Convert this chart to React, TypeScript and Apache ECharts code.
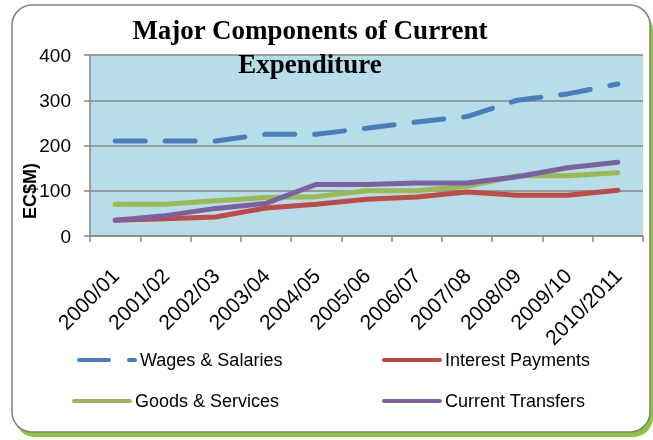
import React, { useEffect, useRef } from "react";
import * as echarts from "echarts";

const categories = ["2000/01", "2001/02", "2002/03", "2003/04", "2004/05", "2005/06", "2006/07", "2007/08", "2008/09", "2009/10", "2010/2011"];
const wages = [210, 210, 210, 225, 225, 238, 252, 264, 300, 314, 336];
const interest = [35, 38, 42, 62, 70, 81, 86, 97, 90, 90, 101];
const goods = [70, 70, 78, 85, 87, 100, 100, 110, 133, 133, 140];
const transfers = [35, 45, 61, 72, 114, 114, 117, 117, 131, 151, 163];
const yTicks = [0, 100, 200, 300, 400];

const titleText = "Major Components of Current\nExpenditure";
const yName = "EC$M)";
const seriesNames = ["Wages & Salaries", "Interest Payments", "Goods & Services", "Current Transfers"];
const colors = ["#4A7EBB", "#BE4B48", "#98B954", "#7D60A0"];

export default function App() {
  const ref = useRef<HTMLDivElement>(null);
  useEffect(() => {
    const chart = echarts.init(ref.current!, null, { renderer: "svg" });
    const font = "'Liberation Sans', Arial, sans-serif";
    const mkLegend = (name: string, left: number, top: number) => ({
      show: true,
      data: [name],
      left,
      top,
      itemWidth: 56,
      itemHeight: 14,
      itemGap: 0,
      padding: 0,
      itemStyle: { opacity: 0, color: "transparent", borderWidth: 0 },
      lineStyle: { width: 4 },
      textStyle: { fontFamily: font, fontSize: 18, color: "#000", padding: [0, 0, 0, 0] },
    });
    chart.setOption({
      animation: false,
      backgroundColor: "transparent",
      graphic: [
        { type: "rect", z: -10, shape: { x: 15, y: 10, width: 638, height: 427, r: 20 }, style: { fill: "#8CC63F" } },
        { type: "rect", z: -9, shape: { x: 12, y: 5, width: 638, height: 427, r: 20 }, style: { fill: "#fff", stroke: "#808080", lineWidth: 1.5 } },
        {
          type: "text", z: 10, x: 30, y: 191, rotation: Math.PI / 2,
          style: { text: yName, fontFamily: font, fontWeight: "bold", fontSize: 18, fill: "#000", align: "center", verticalAlign: "middle" },
        },
      ],
      title: {
        text: titleText,
        left: 305,
        top: 8,
        textAlign: "center",
        textStyle: { fontFamily: "'Liberation Serif', 'Times New Roman', serif", fontWeight: "bold", fontSize: 27, lineHeight: 34, color: "#000" },
        z: 10,
      },
      legend: [
        mkLegend(seriesNames[0], 77, 351),
        mkLegend(seriesNames[1], 382, 351),
        mkLegend(seriesNames[2], 72, 392),
        mkLegend(seriesNames[3], 382, 392),
      ],
      grid: { left: 90, right: 10, top: 55, bottom: 204, show: true, backgroundColor: "#B7DDE8", borderWidth: 0 },
      xAxis: {
        type: "category",
        data: categories,
        boundaryGap: true,
        axisLine: { lineStyle: { color: "#868686", width: 1.5 } },
        axisTick: { show: true, length: 6, lineStyle: { color: "#868686", width: 1.5 } },
        axisLabel: { rotate: 45, interval: 0, margin: 36, fontFamily: font, fontSize: 21, color: "#000" },
      },
      yAxis: {
        type: "value",
        min: yTicks[0],
        max: yTicks[yTicks.length - 1],
        interval: 100,
        axisLine: { show: true, lineStyle: { color: "#868686", width: 1.5 } },
        axisTick: { show: true, length: 6, lineStyle: { color: "#868686", width: 1.5 } },
        splitLine: { lineStyle: { color: "#868686", width: 1.5 } },
        axisLabel: { margin: 19, fontFamily: font, fontSize: 19, color: "#000" },
      },
      series: [
        { name: seriesNames[0], type: "line", data: wages, symbol: "none", color: colors[0], lineStyle: { width: 5, type: [30, 20], cap: "round", color: colors[0] } },
        { name: seriesNames[1], type: "line", data: interest, symbol: "none", color: colors[1], lineStyle: { width: 5, cap: "round", color: colors[1] } },
        { name: seriesNames[2], type: "line", data: goods, symbol: "none", color: colors[2], lineStyle: { width: 5, cap: "round", color: colors[2] } },
        { name: seriesNames[3], type: "line", data: transfers, symbol: "none", color: colors[3], lineStyle: { width: 5, cap: "round", color: colors[3] } },
      ],
    });
    return () => chart.dispose();
  }, []);
  return <div ref={ref} style={{ position: "fixed", left: 0, top: 0, width: 653, height: 440 }} />;
}
